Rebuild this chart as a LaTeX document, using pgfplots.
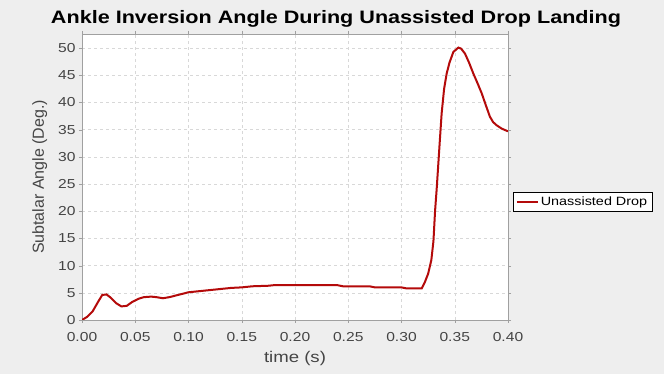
\documentclass[border=0pt]{standalone}
\usepackage{pgfplots}
\pgfplotsset{compat=1.18}
\usepackage{fontspec}
\setmainfont{Liberation Sans}
\newfontfamily\widefont[FakeStretch=1.2]{Liberation Sans}
\definecolor{bggray}{HTML}{EEEEEE}
\definecolor{linered}{HTML}{B40A0A}
\definecolor{gridgray}{HTML}{D8D8D8}
\definecolor{ticktext}{HTML}{444444}
\definecolor{framegray}{HTML}{A0A0A0}
\begin{document}
\begin{tikzpicture}[x=1pt,y=1pt]
\fill[bggray] (0,0) rectangle (664,374);
\node[font=\widefont\bfseries\fontsize{18}{20}\selectfont] at (336,355.5) {Ankle Inversion Angle During Unassisted Drop Landing};
\begin{axis}[
  at={(82pt,54pt)}, anchor=south west,
  scale only axis, width=426pt, height=286pt,
  xmin=0, xmax=0.40, ymin=0, ymax=52.6,
  xtick={0,0.05,...,0.40}, ytick={0,5,...,50},
  xticklabel style={/pgf/number format/fixed, /pgf/number format/fixed zerofill, /pgf/number format/precision=2, yshift=-6pt},
  /pgf/number format/assume math mode=true,
  ticklabel style={font=\widefont\fontsize{13}{15}\selectfont, text=ticktext},
  axis background/.style={fill=white},
  axis line style={framegray},
  tick style={framegray},
  tick align=outside, major tick length=3pt,
  grid=major, major grid style={gridgray, dashed},
  xlabel={time (s)}, ylabel={Subtalar Angle (Deg.)},
  xlabel style={font=\widefont\fontsize{15.5}{17}\selectfont, text=ticktext, yshift=-3pt},
  ylabel style={font=\fontsize{16}{18}\selectfont, text=ticktext, yshift=4pt},
  legend style={at={(1.0117,0.4476)}, anchor=north west, draw=black, fill=white,
    font=\widefont\fontsize{12}{14}\selectfont, inner xsep=3pt, inner ysep=2.5pt, row sep=0pt,
    /tikz/every even column/.append style={column sep=2pt}},
  legend cell align=left,
  legend image code/.code={\draw[#1, line width=1.6pt] (0,0) -- (21pt,0);},
]
\addplot[linered, line width=2pt] coordinates {
(0,0) (0.005,0.6) (0.01,1.6) (0.015,3.3) (0.019,4.6) (0.023,4.7) (0.027,4.1)
(0.032,3.1) (0.037,2.5) (0.042,2.6) (0.047,3.3) (0.053,3.9) (0.058,4.2)
(0.065,4.3) (0.070,4.2) (0.076,4.0) (0.082,4.2) (0.09,4.6) (0.1,5.1)
(0.11,5.3) (0.12,5.5) (0.13,5.7) (0.14,5.9) (0.15,6.0) (0.16,6.2) (0.175,6.3)
(0.18,6.4) (0.2,6.4) (0.22,6.4) (0.24,6.4) (0.245,6.2) (0.27,6.2) (0.275,6.0)
(0.30,6.0) (0.305,5.8) (0.319,5.8) (0.322,7) (0.325,8.5) (0.328,11)
(0.330,14.5) (0.3315,20) (0.333,24) (0.3346,28.8) (0.336,33) (0.3377,38)
(0.34,42.5) (0.3424,45.3) (0.345,47.3) (0.3487,49.3) (0.3534,50.1)
(0.356,49.9) (0.3596,49) (0.3635,47.3) (0.3675,45.3) (0.3715,43.5)
(0.3753,41.7) (0.379,39.6) (0.383,37.4) (0.386,36.4) (0.3894,35.8)
(0.394,35.2) (0.3988,34.8) (0.4,34.7)
};
\addlegendentry{Unassisted Drop}
\end{axis}
\end{tikzpicture}
\end{document}
